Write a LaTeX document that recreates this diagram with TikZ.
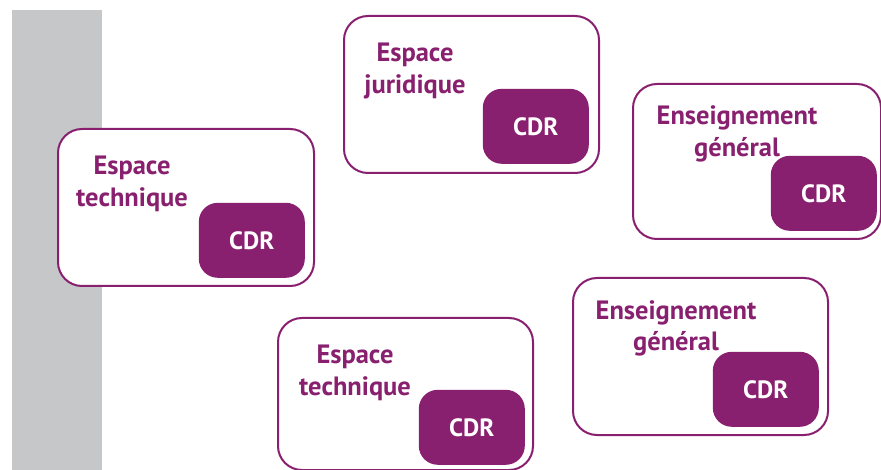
\documentclass[tikz,border=0pt]{standalone}
\usepackage{fontspec}
\setmainfont{PT Sans}
\definecolor{cdrpurple}{HTML}{88206F}
\definecolor{bargray}{HTML}{C6C7C9}
\tikzstyle{zone}=[draw=cdrpurple, line width=2pt, fill=white, rounded corners=24pt, inner sep=0, anchor=north west]
\tikzstyle{cdr}=[fill=cdrpurple, text=white, rounded corners=19pt, minimum width=106pt, minimum height=75pt, anchor=south east, font=\fontsize{25}{30}\selectfont\bfseries]
\tikzstyle{zone title}=[text=cdrpurple, align=center, anchor=base, inner sep=0, font=\fontsize{26.5}{32}\selectfont\bfseries]

\begin{document}
\begin{tikzpicture}[x=1pt, y=-1pt]
      \clip (0, 0) rectangle (881, 470);
      \fill[bargray] (12, 10) rectangle (102, 470);

      % left
      \node[zone, minimum width=256pt, minimum height=157pt] (tech_left) at (57, 128) {};
      \node[zone title] (tech_left_title) at (132, 207) {Espace\\technique};
      \node[cdr] (tech_left_cdr) at (305, 278) {CDR};

      % top
      \node[zone, minimum width=255pt, minimum height=157pt] (juridique) at (343, 15) {};
      \node[zone title] (juridique_title) at (415, 94) {Espace\\juridique};
      \node[cdr] (juridique_cdr) at (589, 164) {CDR};

      % right
      \node[zone, minimum width=248pt, minimum height=155pt] (general_top) at (632, 83) {};
      \node[zone title] (general_top_title) at (737, 157) {Enseignement\\général};
      \node[cdr] (general_top_cdr) at (877, 231) {CDR};

      \node[zone, minimum width=255pt, minimum height=157pt] (general_bottom) at (572, 277) {};
      \node[zone title] (general_bottom_title) at (676, 351) {Enseignement\\général};
      \node[cdr] (general_bottom_cdr) at (819, 427) {CDR};

      % bottom
      \node[zone, minimum width=255pt, minimum height=152pt] (tech_bottom) at (277, 317) {};
      \node[zone title] (tech_bottom_title) at (355, 395) {Espace\\technique};
      \node[cdr] (tech_bottom_cdr) at (525, 465) {CDR};
    \end{tikzpicture}
\end{document}
